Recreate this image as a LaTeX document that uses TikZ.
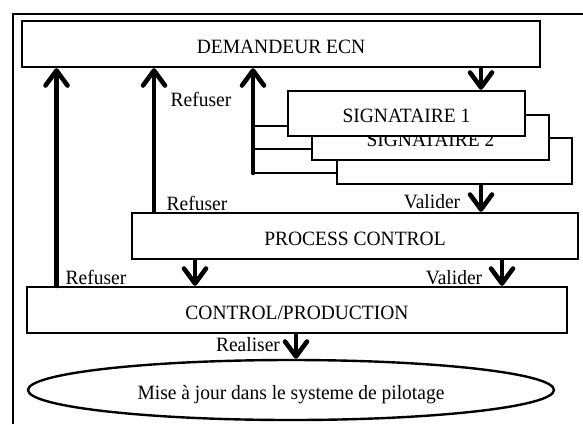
\documentclass[tikz,border=0pt]{standalone}
\usepackage{fontspec}
\setmainfont{Liberation Serif}[FakeStretch=0.96]
\usetikzlibrary{arrows.meta,shapes.geometric}

\begin{document}
\begin{tikzpicture}[x=1pt,y=-1pt,
  txt/.style={font=\fontsize{20.3}{24}\selectfont},
  box/.style={txt, draw, line width=2.4pt, fill=white, inner sep=0pt,
    text height=18pt, text depth=0pt},
  sigbox/.style={box, minimum width=237pt, minimum height=45pt},
  lbl/.style={txt, anchor=base, inner sep=0pt},
  flow/.style={line width=4.6pt, line cap=round,
    -{Straight Barb[length=15pt,width=22pt,round]}},
  link/.style={line width=2pt},
  frame/.style={line width=2pt, line join=miter}]

\useasboundingbox (0,0) rectangle (583,424);

% open frame: left and top edges only
\draw[frame] (13,424) -- (13,14) -- (583,14);

% boxes (the signatory stack is drawn back to front)
\node[box, minimum width=518pt, minimum height=46pt] (dem) at (281,44) {DEMANDEUR ECN};
\node[box, minimum width=235pt, minimum height=46pt] (sig3) at (454.5,161) {};
\node[sigbox] (sig2) at (430.5,137.5) {SIGNATAIRE 2};
\node[sigbox] (sig1) at (406.5,113.5) {SIGNATAIRE 1};
\node[box, minimum width=446pt, minimum height=46pt] (pc) at (355,236) {PROCESS CONTROL};
\node[box, minimum width=540pt, minimum height=46pt] (cp) at (297,310) {CONTROL/PRODUCTION};
\node[box, ellipse, minimum width=526pt, minimum height=60pt] (maj) at (291,390)
  {Mise à jour dans le systeme de pilotage};

% connector columns and levels
\coordinate (c1) at (56.5,0);
\coordinate (c2) at (154,0);
\coordinate (c3) at (253,0);
\coordinate (c4) at (481,0);
\coordinate (c5) at (195,0);
\coordinate (c6) at (502,0);
\coordinate (c7) at (296,0);
\coordinate (h1) at (0,125.7);
\coordinate (h2) at (0,149);
\coordinate (h3) at (0,173);

% refusals back to the requester
\draw[flow] (cp.north -| c1) -- (dem.south -| c1);
\draw[flow] (pc.north -| c2) -- (dem.south -| c2);
\draw[link] (sig1.west |- h1) -- (c3 |- h1);
\draw[link] (sig2.west |- h2) -- (c3 |- h2);
\draw[link] (sig3.west |- h3) -- (c3 |- h3);
\draw[flow] (c3 |- h3) -- (dem.south -| c3);

% forward flow
\draw[flow] (dem.south -| c4) -- (sig1.north -| c4);
\draw[flow] (sig3.south -| c4) -- (pc.north -| c4);
\draw[flow] (pc.south -| c5) -- (cp.north -| c5);
\draw[flow] (pc.south -| c6) -- (cp.north -| c6);
\draw[flow] (cp.south -| c7) -- (maj.north -| c7);

% labels
\node[lbl] (r1) at (201,106) {Refuser};
\node[lbl] (r2) at (197,210) {Refuser};
\node[lbl] (v1) at (432,208) {Valider};
\node[lbl] (r3) at (96,284) {Refuser};
\node[lbl] (v2) at (454,284) {Valider};
\node[lbl] (re) at (248,351.5) {Realiser};
\end{tikzpicture}
\end{document}
